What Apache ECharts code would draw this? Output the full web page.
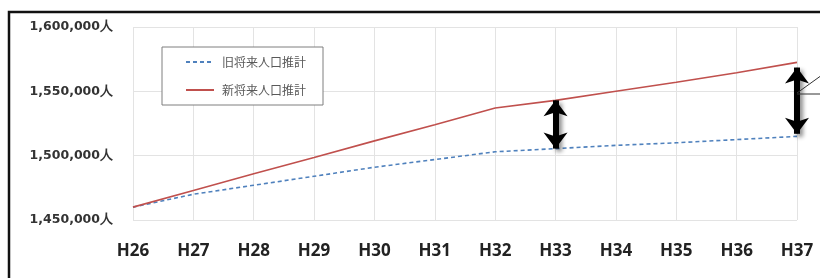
<!DOCTYPE html>
<html>
<head>
<meta charset="utf-8">
<script src="https://cdn.jsdelivr.net/npm/echarts@6/dist/echarts.min.js"></script>
<style>
html, body { margin: 0; padding: 0; background: #fff; }
#chart { width: 820px; height: 278px; }
</style>
</head>
<body>
<div id="chart"></div>
<script>
var years = ["H26", "H27", "H28", "H29", "H30", "H31", "H32", "H33", "H34", "H35", "H36", "H37"];
var oldSeries = [1460000, 1470000, 1477000, 1484000, 1491000, 1497000, 1503000, 1505500, 1508000, 1510000, 1512500, 1515000];
var newSeries = [1460000, 1473000, 1486000, 1498500, 1511500, 1524000, 1537000, 1543000, 1550000, 1557000, 1564500, 1572500];
var yTicks = [1450000, 1500000, 1550000, 1600000];
var seriesNames = ["旧将来人口推計", "新将来人口推計"];

function fmt(v) {
    return String(v).replace(/\B(?=(\d{3})+(?!\d))/g, ",") + "人";
}

var chart = echarts.init(document.getElementById("chart"));

var arrowStyle = {
    color: "#000",
    width: 6,
    type: "solid",
    shadowBlur: 4,
    shadowColor: "rgba(0,0,0,0.45)",
    shadowOffsetX: 3,
    shadowOffsetY: 3
};

chart.setOption({
    backgroundColor: "#fff",
    animation: false,
    grid: { left: 133, right: 23, top: 27, bottom: 58 },
    legend: {
        orient: "vertical",
        left: 162,
        top: 47,
        padding: [9, 17, 9, 23],
        itemGap: 16,
        itemWidth: 28,
        itemHeight: 14,
        borderColor: "#7f7f7f",
        borderWidth: 1,
        backgroundColor: "#fff",
        itemStyle: { opacity: 0 },
        textStyle: { color: "#595959", fontSize: 12, padding: [0, 0, 0, 3],
            fontFamily: "Noto Sans CJK JP" },
        data: seriesNames
    },
    graphic: [
        { type: "rect", shape: { x: 9, y: 12, width: 900, height: 320 },
          style: { fill: "none", stroke: "#111", lineWidth: 2.5 }, z: 100 },
        { type: "polyline", shape: { points: [[797, 93], [822, 75]] },
          style: { stroke: "#333", lineWidth: 1, fill: "none" }, z: 100 },
        { type: "polyline", shape: { points: [[797, 94], [822, 94]] },
          style: { stroke: "#333", lineWidth: 1, fill: "none" }, z: 100 }
    ],
    xAxis: {
        type: "category",
        data: years,
        boundaryGap: false,
        axisLine: { show: false },
        axisTick: { show: false },
        axisLabel: { margin: 23, color: "#222", fontSize: 17, fontWeight: "bold",
            fontFamily: "Open Sans" },
        splitLine: { show: true, lineStyle: { color: "#e3e3e3", width: 1 } }
    },
    yAxis: {
        type: "value",
        min: yTicks[0],
        max: yTicks[yTicks.length - 1],
        interval: yTicks[1] - yTicks[0],
        axisLine: { show: false },
        axisTick: { show: false },
        axisLabel: { margin: 20, color: "#333", fontSize: 12.5, fontWeight: "bold",
            fontFamily: "DejaVu Sans", formatter: fmt },
        splitLine: { lineStyle: { color: "#e3e3e3", width: 1 } }
    },
    series: [
        {
            name: seriesNames[0],
            type: "line",
            data: oldSeries,
            symbol: "none",
            lineStyle: { color: "#4f81bd", width: 1.6, type: [4, 3] },
            itemStyle: { color: "#4f81bd" },
            emphasis: { disabled: true },
            z: 3
        },
        {
            name: seriesNames[1],
            type: "line",
            data: newSeries,
            symbol: "none",
            lineStyle: { color: "#c0504d", width: 1.6 },
            itemStyle: { color: "#c0504d" },
            emphasis: { disabled: true },
            z: 4,
            markLine: {
                silent: true,
                symbol: ["arrow", "arrow"],
                symbolSize: [18, 16],
                label: { show: false },
                emphasis: { disabled: true },
                lineStyle: arrowStyle,
                itemStyle: { color: "#000" },
                data: [
                    [{ coord: ["H33", newSeries[7]] }, { coord: ["H33", oldSeries[7]] }],
                    [{ coord: ["H37", newSeries[11] - 4000] }, { coord: ["H37", oldSeries[11] + 2000] }]
                ]
            }
        }
    ]
});
</script>
</body>
</html>
